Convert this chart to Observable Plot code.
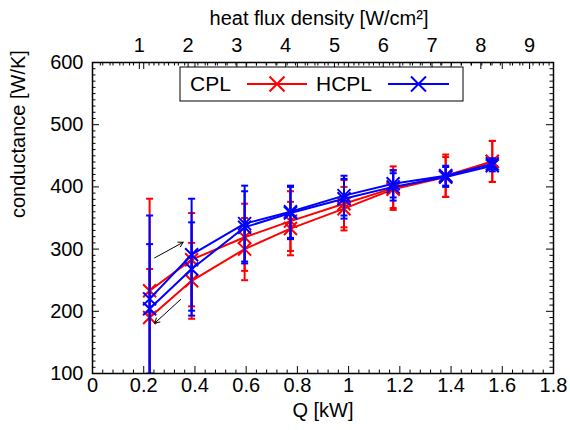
<!DOCTYPE html>
<html><head><meta charset="utf-8">
<script src="https://cdn.jsdelivr.net/npm/d3@7"></script>
<script src="https://cdn.jsdelivr.net/npm/@observablehq/plot@0.6"></script>
<style>body{margin:0;background:#fff;} #chart svg{display:block;}</style>
</head><body><div id="chart"></div>
<script>
// ---- data ----
const heatLoadKW = [0.223, 0.387, 0.594, 0.773, 0.982, 1.174, 1.379, 1.561];
// CPL, increasing load (upper branch) and decreasing load (lower branch)
const cplUp       = [233, 283, 319, 345, 373, 398, 418, 441];
const cplUpErr    = [35, 75, 54, 48, 38, 35, 34, 33];
const cplDown     = [190, 249, 300, 333, 365, 396, 416, 441];
const cplDownErr  = [191, 61, 50, 43, 35, 30, 32, 33];
// HCPL
const hcplUp      = [220, 291, 341, 360, 386, 405, 418, 437];
const hcplUpErr   = [134, 90, 61, 42, 32, 22, 16, 9];
const hcplDown    = [204, 268, 335, 358, 381, 400, 416, 434];
const hcplDownErr = [104, 75, 58, 42, 32, 22, 16, 9];
// hysteresis arrows (Q [kW], conductance [W/K])
const arrowFromQ = [0.243, 0.344];
const arrowFromG = [286, 219];
const arrowToQ   = [0.354, 0.243];
const arrowToG   = [311, 181];
// axes
const xTicks = [0, 0.2, 0.4, 0.6, 0.8, 1, 1.2, 1.4, 1.6, 1.8];
const yTicks = [100, 200, 300, 400, 500, 600];
const fluxTicks = [1, 2, 3, 4, 5, 6, 7, 8, 9];
const fluxPerKW = 5.25, fluxOffset = 0.04; // heat flux density = Q*5.25 + 0.04
const seriesNames = ["CPL", "HCPL"];
const seriesColors = ["#ff0000", "#0000ff"];

const fluxToQ = f => (f - fluxOffset) / fluxPerKW;
const xMinor = d3.range(0, 1.8001, 0.04).filter(v => Math.abs(v / 0.2 - Math.round(v / 0.2)) > 1e-6);
const yMinor = d3.range(100, 601, 10).filter(v => v % 100 !== 0);
const fluxMinor = d3.range(0.2, 9.45, 0.2).filter(v => Math.abs(v - Math.round(v)) > 1e-6);

const rows = (vals, errs) => heatLoadKW.map((q, i) => ({q, v: vals[i], e: errs[i]}));
const crossSymbol = {draw(ctx, size) {const r = Math.sqrt(size / Math.PI); ctx.moveTo(-r, -r); ctx.lineTo(r, r); ctx.moveTo(-r, r); ctx.lineTo(r, -r);}};
const capSymbol = {draw(ctx, size) {const r = Math.sqrt(size / Math.PI); ctx.moveTo(-r, 0); ctx.lineTo(r, 0);}};

const W = 570, H = 430, mL = 92, mR = 17, mT = 62, mB = 57;
const pw = W - mL - mR, ph = H - mT - mB;
const FS = 20;

function seriesMarks(runs, color) {
  const m = [];
  for (const r of runs) {
    m.push(Plot.line(r, {x: "q", y: "v", stroke: color, strokeWidth: 2, clip: true}));
  }
  for (const r of runs) {
    m.push(Plot.ruleX(r, {x: "q", y1: d => d.v - d.e, y2: d => d.v + d.e, stroke: color, strokeWidth: 2, clip: true}));
    m.push(Plot.dot(r, {x: "q", y: d => d.v + d.e, symbol: capSymbol, r: 3.5, fill: "none", stroke: color, strokeWidth: 2, clip: true}));
    m.push(Plot.dot(r, {x: "q", y: d => d.v - d.e, symbol: capSymbol, r: 3.5, fill: "none", stroke: color, strokeWidth: 2, clip: true}));
    m.push(Plot.dot(r, {x: "q", y: "v", symbol: crossSymbol, r: 6.5, fill: "none", stroke: color, strokeWidth: 2, clip: true}));
  }
  return m;
}

const arrows = arrowFromQ.map((q, i) => ({x1: q, y1: arrowFromG[i], x2: arrowToQ[i], y2: arrowToG[i]}));

const chart = Plot.plot({
  width: W, height: H,
  marginLeft: mL, marginRight: mR, marginTop: mT, marginBottom: mB,
  style: {fontFamily: "'Liberation Sans', Arial, sans-serif", background: "#fff"},
  x: {domain: [0, 1.8], axis: null},
  y: {domain: [100, 600], axis: null},
  marks: [
    // inward ticks
    Plot.ruleX(xTicks, {x: d => d, insetTop: ph - 7, stroke: "black"}),
    Plot.ruleX(xMinor, {x: d => d, insetTop: ph - 3.5, stroke: "black"}),
    Plot.ruleX(xTicks, {x: d => d, insetBottom: ph - 7, stroke: "black"}),
    Plot.ruleX(xMinor, {x: d => d, insetBottom: ph - 3.5, stroke: "black"}),
    Plot.ruleX(fluxTicks, {x: d => fluxToQ(d), insetBottom: ph - 7, stroke: "black"}),
    Plot.ruleX(fluxMinor, {x: d => fluxToQ(d), insetBottom: ph - 3.5, stroke: "black"}),
    Plot.ruleY(yTicks, {y: d => d, insetRight: pw - 7, stroke: "black"}),
    Plot.ruleY(yMinor, {y: d => d, insetRight: pw - 3.5, stroke: "black"}),
    Plot.ruleY(yTicks, {y: d => d, insetLeft: pw - 7, stroke: "black"}),
    Plot.ruleY(yMinor, {y: d => d, insetLeft: pw - 3.5, stroke: "black"}),
    // tick labels
    Plot.text(xTicks, {x: d => d, text: d => String(d), frameAnchor: "bottom", dy: 12, lineAnchor: "middle", fontSize: FS, fill: "black"}),
    Plot.text(yTicks, {y: d => d, text: d => String(d), frameAnchor: "left", dx: -9, textAnchor: "end", fontSize: FS, fill: "black"}),
    Plot.text(fluxTicks, {x: d => fluxToQ(d), text: d => String(d), frameAnchor: "top", dy: -17, lineAnchor: "middle", fontSize: FS, fill: "black"}),
    // axis titles
    Plot.text(["Q [kW]"], {frameAnchor: "bottom", dy: 37, lineAnchor: "middle", fontSize: FS, fill: "black"}),
    Plot.text(["heat flux density [W/cm²]"], {frameAnchor: "top", dy: -44, dx: -4, lineAnchor: "middle", fontSize: FS, fill: "black"}),
    Plot.text(["conductance [W/K]"], {frameAnchor: "left", dx: -74, rotate: -90, lineAnchor: "middle", fontSize: FS, fill: "black"}),
    // data
    ...seriesMarks([rows(cplUp, cplUpErr), rows(cplDown, cplDownErr)], seriesColors[0]),
    ...seriesMarks([rows(hcplUp, hcplUpErr), rows(hcplDown, hcplDownErr)], seriesColors[1]),
    Plot.arrow(arrows, {x1: "x1", y1: "y1", x2: "x2", y2: "y2", stroke: "black", strokeWidth: 1, headLength: 8}),
    Plot.frame({stroke: "black", strokeWidth: 1.5})
  ]
});
document.getElementById("chart").appendChild(chart);

// legend (inside plot, top)
const svg = d3.select(chart);
const lg = svg.append("g").attr("font-family", "'Liberation Sans', Arial, sans-serif").attr("font-size", 21).attr("text-anchor", "start");
lg.append("rect").attr("x", 180).attr("y", 67).attr("width", 283).attr("height", 34)
  .attr("fill", "white").attr("stroke", "black").attr("stroke-width", 1);
const items = [{x: 190, lx1: 247, lx2: 307}, {x: 316, lx1: 388, lx2: 449}];
items.forEach((it, i) => {
  lg.append("text").attr("x", it.x).attr("y", 84).attr("dy", "0.35em").attr("text-anchor", "start").attr("fill", "black").text(seriesNames[i]);
  lg.append("line").attr("x1", it.lx1).attr("x2", it.lx2).attr("y1", 84).attr("y2", 84)
    .attr("stroke", seriesColors[i]).attr("stroke-width", 2);
  const cx = (it.lx1 + it.lx2) / 2, r = 7.5;
  lg.append("path").attr("d", `M${cx - r},${84 - r}L${cx + r},${84 + r}M${cx - r},${84 + r}L${cx + r},${84 - r}`)
    .attr("stroke", seriesColors[i]).attr("stroke-width", 2).attr("fill", "none");
});
</script>
</body></html>
